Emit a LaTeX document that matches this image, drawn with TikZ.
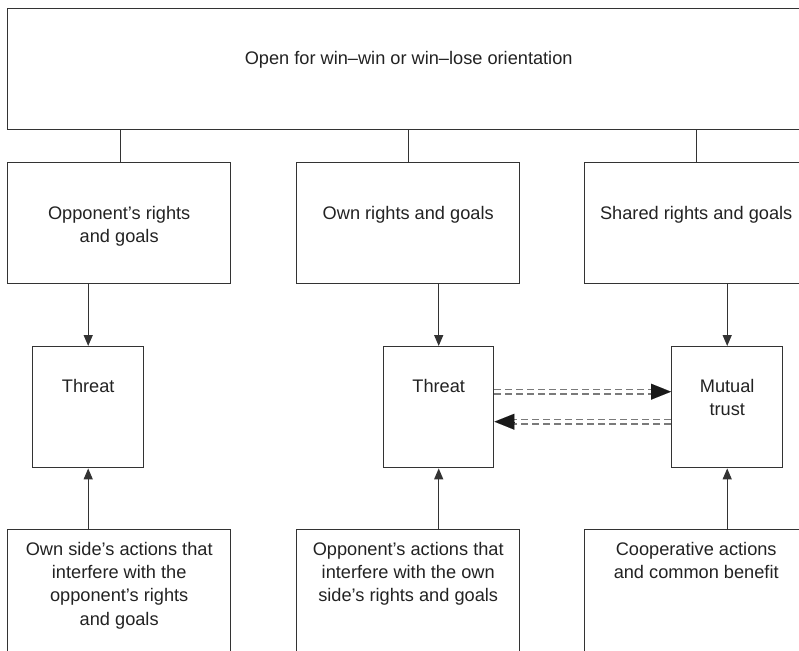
\documentclass[tikz,border=0pt]{standalone}
\usepackage{fontspec}
\setmainfont{Liberation Sans}
\usetikzlibrary{arrows.meta}
\definecolor{ink}{HTML}{333333}
\definecolor{txtc}{HTML}{222222}
\definecolor{dashc}{HTML}{7A7A7A}
\begin{document}
\begin{tikzpicture}[x=1pt,y=-1pt,
  box/.style={draw=ink, line width=1.4pt, rectangle, inner sep=0pt, anchor=north west},
  txt/.style={anchor=north, inner sep=0pt, align=center, text=txtc,
    font=\fontsize{18.2}{23.3}\selectfont},
  conn/.style={draw=ink, line width=1.4pt},
  arr/.style={draw=ink, line width=1.4pt, -{Triangle[length=11pt,width=9pt]}},
  dline/.style={draw=dashc, line width=1.5pt, double=white, double distance=3pt,
    dash pattern=on 7pt off 4pt},
  bigtip/.style={draw=black!90, line width=0.1pt, -{Triangle[length=20pt,width=16pt]}}]
\useasboundingbox (0,0) rectangle (799,650);
\clip (0,0) rectangle (799,650);

% top box
\node[box, minimum width=802pt, minimum height=121pt] (top) at (7,8) {};
\node[txt] (toptxt) at ([yshift=-43pt]top.north) {Open for win--win or win--lose orientation};

% rights and goals
\node[box, minimum width=223pt, minimum height=121pt] (r1) at (7,162) {};
\node[box, minimum width=223pt, minimum height=121pt] (r2) at (296,162) {};
\node[box, minimum width=223pt, minimum height=121pt] (r3) at (584,162) {};
\node[txt] (r1t) at ([yshift=-44pt]r1.north) {Opponent’s rights\\and goals};
\node[txt] (r2t) at ([yshift=-44pt]r2.north) {Own rights and goals};
\node[txt] (r3t) at ([yshift=-44pt]r3.north) {Shared rights and goals};

% middle boxes
\node[box, minimum width=111pt, minimum height=121pt] (th1) at (32,346) {};
\node[box, minimum width=110pt, minimum height=121pt] (th2) at (383,346) {};
\node[box, minimum width=111pt, minimum height=121pt] (mu) at (671,346) {};
\node[txt] (th1t) at ([yshift=-33pt]th1.north) {Threat};
\node[txt] (th2t) at ([yshift=-33pt]th2.north) {Threat};
\node[txt] (mut) at ([yshift=-33pt]mu.north) {Mutual\\trust};

% actions
\node[box, minimum width=223pt, minimum height=140pt] (a1) at (7,529) {};
\node[box, minimum width=223pt, minimum height=140pt] (a2) at (296,529) {};
\node[box, minimum width=223pt, minimum height=140pt] (a3) at (584,529) {};
\node[txt] (a1t) at ([yshift=-13pt]a1.north) {Own side’s actions that\\interfere with the\\opponent’s rights\\and goals};
\node[txt] (a2t) at ([yshift=-13pt]a2.north) {Opponent’s actions that\\interfere with the own\\side’s rights and goals};
\node[txt] (a3t) at ([yshift=-13pt]a3.north) {Cooperative actions\\and common benefit};

% links from the top box
\draw[conn] ([xshift=1.5pt]r1.north) -- ([xshift=1.5pt]r1.north |- top.south);
\draw[conn] ([xshift=0.5pt]r2.north) -- ([xshift=0.5pt]r2.north |- top.south);
\draw[conn] ([xshift=0.5pt]r3.north) -- ([xshift=0.5pt]r3.north |- top.south);

% downward arrows
\draw[arr] (r1.south -| th1.north) -- (th1.north);
\draw[arr] (r2.south -| th2.north) -- (th2.north);
\draw[arr] (r3.south -| mu.north) -- (mu.north);

% upward arrows
\draw[arr] (a1.north -| th1.south) -- (th1.south);
\draw[arr] (a2.north -| th2.south) -- (th2.south);
\draw[arr] (a3.north -| mu.south) -- (mu.south);

% dashed links between threat and mutual trust
\draw[dline] ([yshift=15.5pt]th2.east) -- ([yshift=15.5pt,xshift=-10pt]mu.west);
\draw[bigtip] ([yshift=15.5pt,xshift=-20pt]mu.west) -- ([yshift=15.5pt]mu.west);
\draw[dline] ([yshift=-14.5pt]mu.west) -- ([yshift=-14.5pt,xshift=10pt]th2.east);
\draw[bigtip] ([yshift=-14.5pt,xshift=20pt]th2.east) -- ([yshift=-14.5pt]th2.east);
\end{tikzpicture}
\end{document}
